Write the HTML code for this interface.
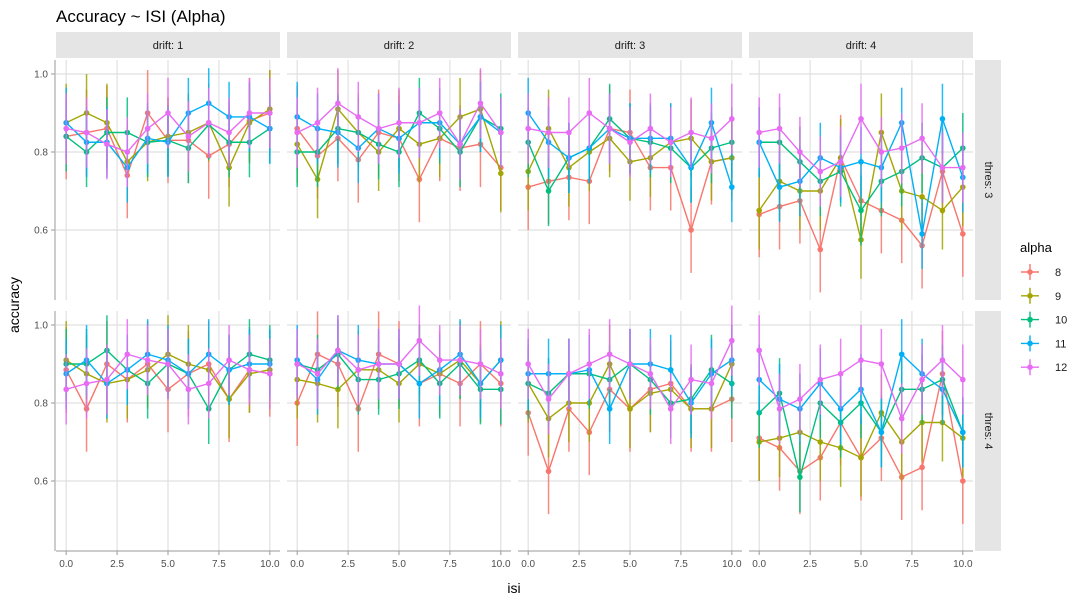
<!DOCTYPE html>
<html><head><meta charset="utf-8">
<style>
body{margin:0;background:#fff;font-family:"Liberation Sans",sans-serif;}
svg text{font-family:"Liberation Sans",sans-serif;}
</style></head>
<body>
<svg id="chart" width="1082" height="605" xmlns="http://www.w3.org/2000/svg">
<rect width="1082" height="605" fill="#fff"/>
<text x="56" y="22" font-size="17" fill="#000">Accuracy ~ ISI (Alpha)</text>
<text x="514" y="593" font-size="14" text-anchor="middle">isi</text>
<text x="19" y="305" font-size="14" text-anchor="middle" transform="rotate(-90 19 305)">accuracy</text>
<g id="panels"></g>
<g id="legend"></g>
</svg>
<script>
const isi = [0,1,2,3,4,5,6,7,8,9,10];
const alphas = ["8","9","10","11","12"];
const colors = ["#F8766D","#A3A500","#00BF7D","#00B0F6","#E76BF3"];
const drifts = ["1","2","3","4"];
const thresholds = ["3","4"];
const xTicks = [0,2.5,5,7.5,10];
const xTickLabels = ["0.0","2.5","5.0","7.5","10.0"];
const yTicks = [0.6,0.8,1.0];
const yTickLabels = ["0.6","0.8","1.0"];
const errHalf = [0.11,0.1,0.09,0.09,0.09];

// thres 3
const t3d1 = [
 [0.84,0.85,0.86,0.74,0.90,0.83,0.83,0.79,0.82,0.88,0.90],
 [0.875,0.90,0.875,0.775,0.825,0.84,0.85,0.875,0.76,0.875,0.91],
 [0.84,0.80,0.85,0.85,0.825,0.83,0.81,0.87,0.825,0.825,0.86],
 [0.875,0.825,0.825,0.76,0.835,0.825,0.90,0.925,0.89,0.89,0.86],
 [0.86,0.85,0.82,0.80,0.86,0.90,0.84,0.875,0.85,0.90,0.90]];
const t3d2 = [
 [0.86,0.79,0.835,0.78,0.85,0.835,0.73,0.835,0.81,0.82,0.76],
 [0.82,0.73,0.91,0.85,0.80,0.86,0.82,0.835,0.89,0.91,0.745],
 [0.80,0.80,0.86,0.85,0.82,0.80,0.90,0.86,0.80,0.89,0.86],
 [0.89,0.86,0.85,0.81,0.86,0.835,0.875,0.875,0.82,0.89,0.85],
 [0.85,0.875,0.925,0.89,0.86,0.875,0.875,0.90,0.82,0.925,0.85]];
const t3d3 = [
 [0.71,0.725,0.735,0.725,0.86,0.85,0.76,0.76,0.60,0.775,0.785],
 [0.75,0.86,0.76,0.80,0.835,0.775,0.785,0.825,0.835,0.775,0.785],
 [0.825,0.70,0.785,0.81,0.885,0.835,0.825,0.81,0.76,0.81,0.825],
 [0.90,0.825,0.785,0.81,0.86,0.835,0.835,0.835,0.76,0.875,0.71],
 [0.86,0.85,0.85,0.90,0.86,0.825,0.86,0.825,0.85,0.835,0.885]];
const t3d4 = [
 [0.64,0.66,0.675,0.55,0.785,0.675,0.65,0.625,0.56,0.75,0.59],
 [0.65,0.725,0.70,0.70,0.785,0.575,0.85,0.70,0.685,0.65,0.71],
 [0.825,0.825,0.775,0.725,0.75,0.65,0.725,0.75,0.785,0.76,0.81],
 [0.825,0.71,0.725,0.785,0.76,0.775,0.76,0.875,0.59,0.885,0.735],
 [0.85,0.86,0.80,0.75,0.775,0.885,0.80,0.81,0.835,0.76,0.76]];
// thres 4
const t4d1 = [
 [0.885,0.785,0.90,0.86,0.90,0.835,0.875,0.90,0.81,0.885,0.875],
 [0.91,0.875,0.85,0.86,0.885,0.925,0.90,0.885,0.81,0.875,0.885],
 [0.90,0.90,0.935,0.885,0.85,0.90,0.875,0.785,0.885,0.925,0.91],
 [0.875,0.91,0.85,0.885,0.925,0.91,0.875,0.925,0.885,0.90,0.90],
 [0.835,0.85,0.86,0.925,0.91,0.90,0.835,0.85,0.91,0.885,0.875]];
const t4d2 = [
 [0.80,0.925,0.90,0.785,0.925,0.90,0.85,0.875,0.85,0.90,0.85],
 [0.86,0.85,0.835,0.885,0.885,0.85,0.90,0.875,0.91,0.85,0.91],
 [0.90,0.885,0.925,0.86,0.86,0.875,0.91,0.85,0.90,0.835,0.835],
 [0.91,0.86,0.935,0.91,0.90,0.90,0.85,0.885,0.925,0.85,0.91],
 [0.90,0.875,0.935,0.885,0.90,0.90,0.96,0.91,0.91,0.90,0.875]];
const t4d3 = [
 [0.775,0.625,0.785,0.725,0.835,0.785,0.835,0.85,0.785,0.785,0.81],
 [0.85,0.76,0.80,0.80,0.90,0.785,0.825,0.835,0.785,0.785,0.90],
 [0.85,0.825,0.875,0.875,0.86,0.90,0.86,0.80,0.81,0.885,0.85],
 [0.875,0.875,0.875,0.885,0.785,0.90,0.90,0.885,0.80,0.875,0.91],
 [0.90,0.81,0.875,0.90,0.925,0.90,0.875,0.785,0.86,0.85,0.96]];
const t4d4 = [
 [0.71,0.685,0.625,0.66,0.75,0.66,0.71,0.61,0.635,0.875,0.60],
 [0.70,0.71,0.725,0.70,0.685,0.66,0.775,0.70,0.75,0.75,0.71],
 [0.775,0.825,0.61,0.80,0.75,0.80,0.725,0.835,0.835,0.86,0.725],
 [0.86,0.81,0.785,0.85,0.785,0.835,0.725,0.925,0.875,0.835,0.725],
 [0.935,0.785,0.81,0.86,0.875,0.91,0.90,0.76,0.86,0.91,0.86]];
const panelData = [[t3d1,t3d2,t3d3,t3d4],[t4d1,t4d2,t4d3,t4d4]];

const NS="http://www.w3.org/2000/svg";
const panelsG=document.getElementById('panels');
const PL=[56,287,518,749], PW=224, PT=[60,311], PH=240;
function mk(tag,attrs,parent){const e=document.createElementNS(NS,tag);for(const k in attrs)e.setAttribute(k,attrs[k]);parent.appendChild(e);return e;}
function xScale(p,v){return PL[p]+PW*(v+0.5)/11;}
function yScale(r,v){return PT[r]+14+(1.0-v)*390;}

for(let r=0;r<2;r++){
  for(let p=0;p<4;p++){
    const g=mk('g',{},panelsG);
    
    
    // gridlines
    xTicks.forEach(t=>{mk('line',{x1:xScale(p,t),x2:xScale(p,t),y1:PT[r],y2:PT[r]+PH,stroke:'#e0e0e0','stroke-width':1.2},g);});
    yTicks.forEach(t=>{mk('line',{x1:PL[p],x2:PL[p]+PW,y1:yScale(r,t),y2:yScale(r,t),stroke:'#e0e0e0','stroke-width':1.2},g);});
    const data=panelData[r][p];
    data.forEach((ser,s)=>{
      const sg=mk('g',{},g);
      
      
      ser.forEach((v,i)=>{
        const eb=mk('line',{x1:xScale(p,isi[i]),x2:xScale(p,isi[i]),y1:yScale(r,v+errHalf[s]),y2:yScale(r,v-errHalf[s]),stroke:colors[s],'stroke-width':1.5,opacity:0.85},sg);
        
        
      });
      const pts=ser.map((v,i)=>xScale(p,isi[i])+','+yScale(r,v)).join(' ');
      const pl=mk('polyline',{points:pts,fill:'none',stroke:colors[s],'stroke-width':1.4},sg);
      
      
      ser.forEach((v,i)=>{
        const c=mk('circle',{cx:xScale(p,isi[i]),cy:yScale(r,v),r:2.8,fill:colors[s]},sg);
        
        
      });
    });
    if(r===0){
      const st=mk('rect',{x:PL[p],y:32,width:PW,height:26,fill:'#e5e5e5'},g);
      
      
      const tx=mk('text',{x:PL[p]+PW/2,y:49,'font-size':11,'text-anchor':'middle',fill:'#1a1a1a'},g);
      tx.textContent='drift: '+drifts[p];
      
      
    }
    if(r===1){
      xTicks.forEach((t,i)=>{
        mk('line',{x1:xScale(p,t),x2:xScale(p,t),y1:551,y2:555,stroke:'#999'},g);
        const tl=mk('text',{x:xScale(p,t),y:567,'font-size':10,'text-anchor':'middle',fill:'#4d4d4d'},g);
        tl.textContent=xTickLabels[i];
        
        
      });
      mk('line',{x1:PL[p],x2:PL[p]+PW,y1:551,y2:551,stroke:'#999'},g);
    }
    if(p===0){
      mk('line',{x1:55,x2:55,y1:PT[r],y2:PT[r]+PH,stroke:'#999'},g);
      yTicks.forEach((t,i)=>{
        mk('line',{x1:51,x2:55,y1:yScale(r,t),y2:yScale(r,t),stroke:'#999'},g);
        const tl=mk('text',{x:48,y:yScale(r,t)+3.5,'font-size':10,'text-anchor':'end',fill:'#4d4d4d'},g);
        tl.textContent=yTickLabels[i];
        
        
      });
    }
    if(p===3){
      const st=mk('rect',{x:975,y:PT[r],width:26,height:PH,fill:'#e5e5e5'},g);
      
      
      const cy=PT[r]+PH/2;
      const tx=mk('text',{x:988,y:cy,'font-size':11,'text-anchor':'middle',fill:'#1a1a1a',transform:'rotate(90 988 '+cy+')','dominant-baseline':'middle'},g);
      tx.textContent='thres: '+thresholds[r];
      
      
    }
  }
}
const lg=document.getElementById('legend');
const lt=mk('text',{x:1020,y:252,'font-size':13,fill:'#000'},lg);
lt.textContent='alpha';


alphas.forEach((a,i)=>{
  const y=272+i*23.8;
  const eg=mk('g',{},lg);
  
  
  mk('line',{x1:1021,x2:1039,y1:y,y2:y,stroke:colors[i],'stroke-width':1.4},eg);
  mk('line',{x1:1030,x2:1030,y1:y-8,y2:y+8,stroke:colors[i],'stroke-width':1.4},eg);
  mk('circle',{cx:1030,cy:y,r:2.8,fill:colors[i]},eg);
  const t=mk('text',{x:1055,y:y+4,'font-size':11,fill:'#1a1a1a'},eg);
  t.textContent=a;
});
</script>
</body></html>
